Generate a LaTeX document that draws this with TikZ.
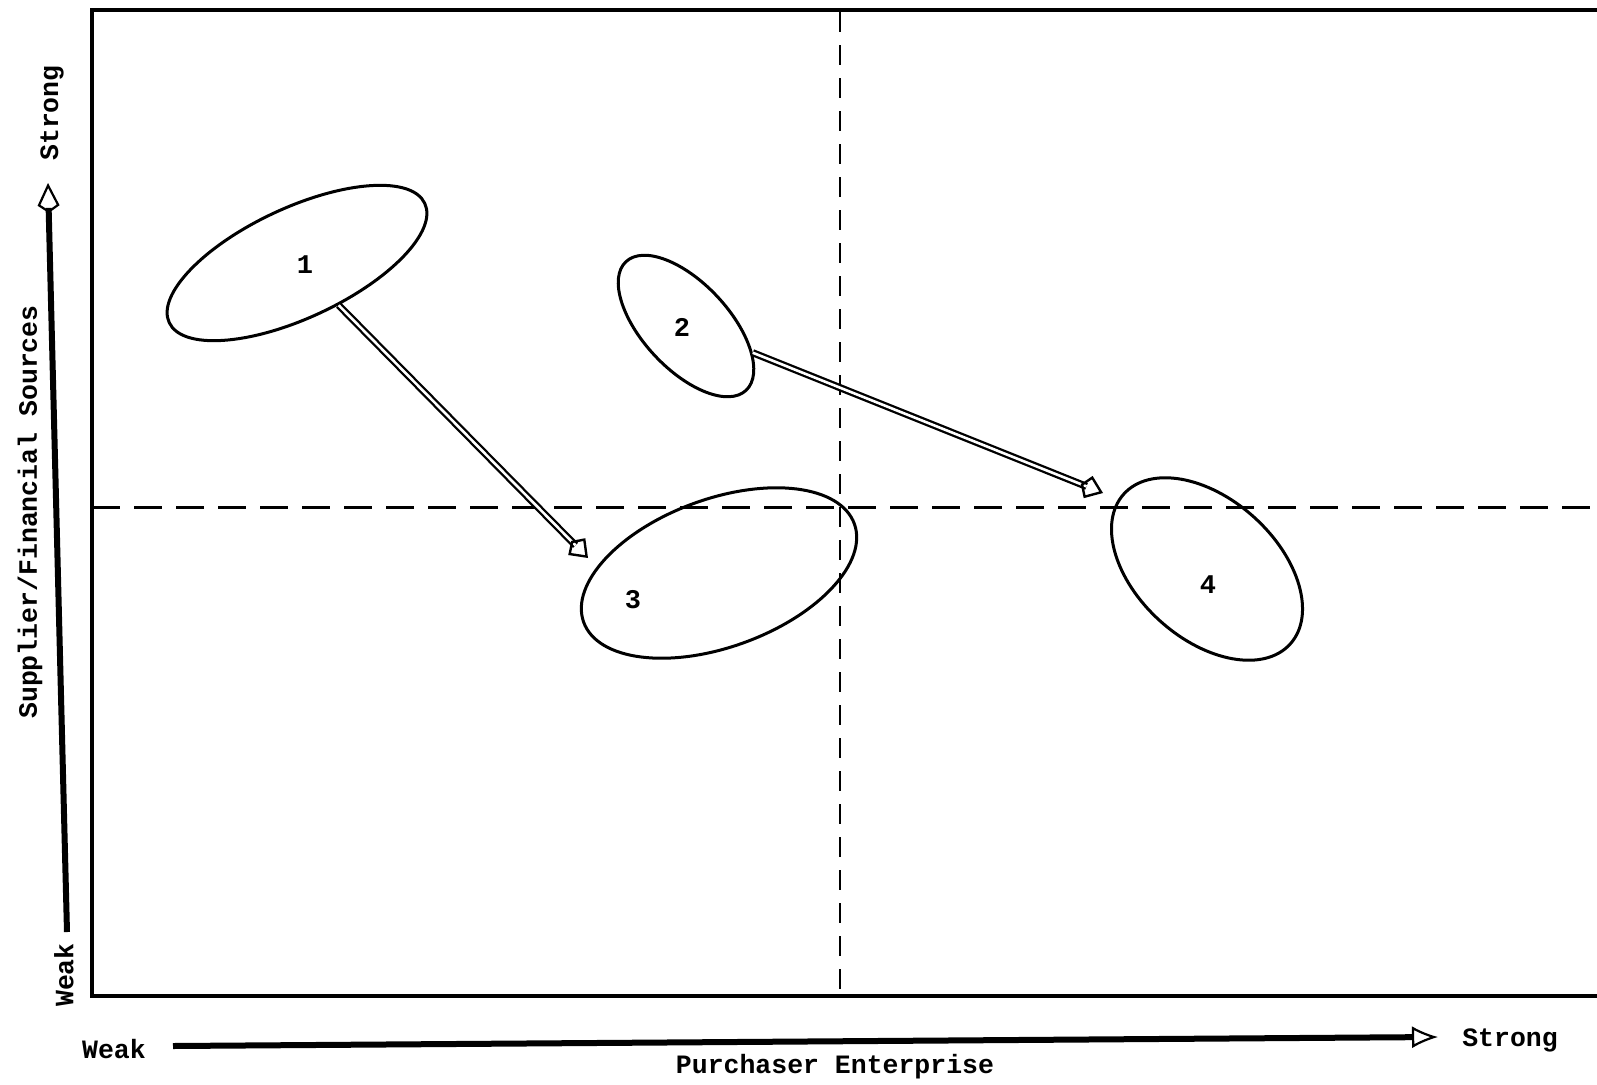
\documentclass[tikz,border=0pt]{standalone}
\usepackage{fontspec}
\setmainfont{Liberation Mono}
\usetikzlibrary{shapes.geometric,arrows.meta}
\begin{document}
\begin{tikzpicture}[x=1pt,y=-1pt,
  lbl/.style={font=\fontsize{26.5}{30}\selectfont\bfseries, inner sep=0pt},
  num/.style={font=\fontsize{27}{30}\selectfont\bfseries, inner sep=0pt},
  blob/.style={draw, ellipse, line width=3pt, inner sep=0pt},
  link/.style={double, line width=2.3pt, double distance=2.6pt,
    -{Kite[open, length=24pt, width=24pt, inset=8pt, line width=2.4pt]}},
  axisline/.style={line width=6pt},
  frame/.style={line width=4pt},
  hguide/.style={line width=3pt, dash pattern=on 28pt off 14pt},
  vguide/.style={line width=2.5pt, dash pattern=on 20pt off 13pt}]
\useasboundingbox (0,0) rectangle (1597,1084);

% frame
\draw[frame] (1597,10) -- (92,10) -- (92,996) -- (1597,996);
% quadrant guides
\draw[vguide] (840,12) -- (840,996);
\draw[hguide] (92,507) -- (1597,507);

% ellipses
\node[blob, minimum width=282pt, minimum height=110pt, rotate=25] (e1) at (297,263) {};
\node[blob, minimum width=176pt, minimum height=86pt, rotate=-47] (e2) at (686,326) {};
\node[blob, minimum width=288pt, minimum height=148pt, rotate=20] (e3) at (719,573) {};
\node[blob, minimum width=224pt, minimum height=140pt, rotate=-42] (e4) at (1207,569) {};

\node[num] (n1) at (305,265) {1};
\node[num] (n2) at (682,327) {2};
\node[num] (n3) at (633,600) {3};
\node[num] (n4) at (1208,585) {4};

% movement arrows
\coordinate (t1) at (588,558);
\coordinate (t2) at (1103,493);
\draw[link] (e1) -- (t1);
\draw[link] (e2) -- (t2);

% y axis
\coordinate (ya0) at (67,932);
\coordinate (ya1) at (48,183);
\draw[axisline, -{Kite[open, length=30pt, width=22pt, line width=2.2pt]}] (ya0) -- (ya1);
\node[lbl, rotate=90] (yweak) at (64,975) {Weak};
\node[lbl, rotate=90] (ystrong) at (52,113) {Strong};
\node[lbl, rotate=90] (ytitle) at (30,512) {Supplier/Financial Sources};

% x axis
\coordinate (xa0) at (173,1046);
\coordinate (xa1) at (1438,1037);
\draw[axisline, -{Latex[open, length=26pt, width=22pt, line width=2.2pt]}] (xa0) -- (xa1);
\node[lbl, anchor=base] (xweak) at (114,1058) {Weak};
\node[lbl, anchor=base] (xstrong) at (1510,1046) {Strong};
\node[lbl, anchor=base] (xtitle) at (835,1073) {Purchaser Enterprise};
\end{tikzpicture}
\end{document}
